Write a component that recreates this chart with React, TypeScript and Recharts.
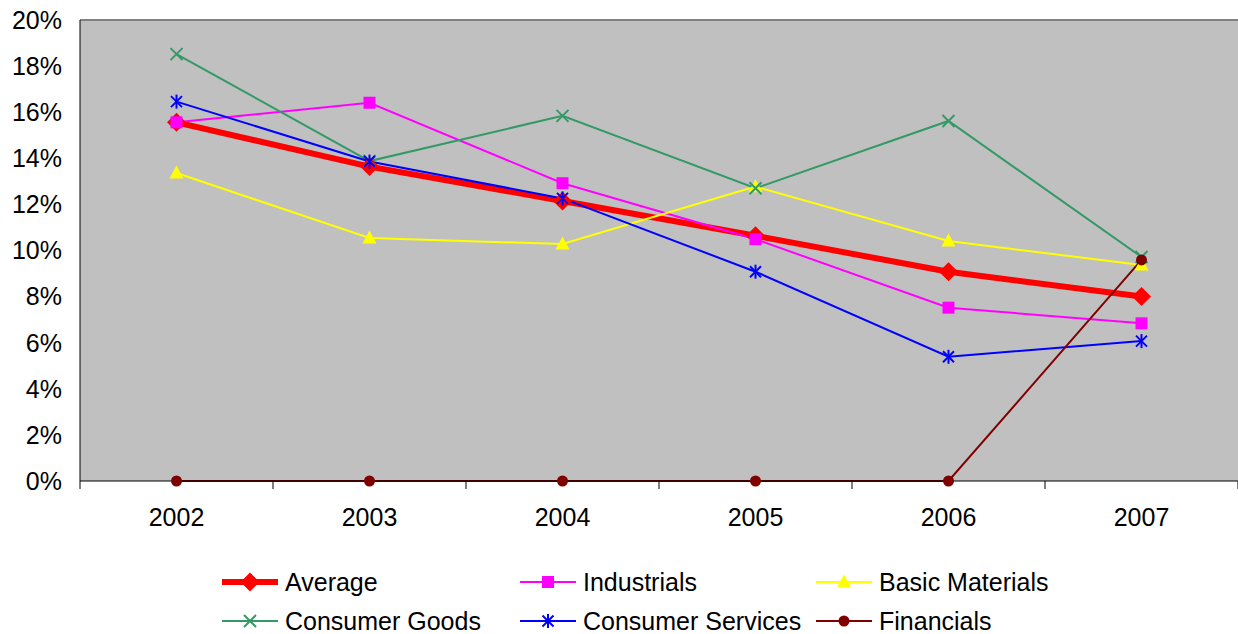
import React from 'react';
import { LineChart, Line, XAxis, YAxis, CartesianGrid, ReferenceLine, Legend } from 'recharts';

// Sector values by year, in percent
const years = ['2002', '2003', '2004', '2005', '2006', '2007'];
const average = [15.56, 13.64, 12.15, 10.64, 9.08, 8.0];
const industrials = [15.56, 16.41, 12.92, 10.49, 7.52, 6.84];
const basicMaterials = [13.36, 10.54, 10.28, 12.77, 10.41, 9.37];
const consumerGoods = [18.52, 13.88, 15.84, 12.7, 15.62, 9.72];
const consumerServices = [16.46, 13.86, 12.26, 9.08, 5.39, 6.07];
const financials = [0, 0, 0, 0, 0, 9.59];
const yTicks = [0, 2, 4, 6, 8, 10, 12, 14, 16, 18, 20];

type MarkerKind = 'diamond' | 'square' | 'triangle' | 'cross' | 'star' | 'circle';

interface SeriesDef {
  key: string;
  name: string;
  color: string;
  width: number;
  marker: MarkerKind;
}

const series: SeriesDef[] = [
  { key: 'average', name: 'Average', color: '#FF0000', width: 6, marker: 'diamond' },
  { key: 'industrials', name: 'Industrials', color: '#FF00FF', width: 2, marker: 'square' },
  { key: 'basicMaterials', name: 'Basic Materials', color: '#FFFF00', width: 2, marker: 'triangle' },
  { key: 'consumerGoods', name: 'Consumer Goods', color: '#339966', width: 2, marker: 'cross' },
  { key: 'consumerServices', name: 'Consumer Services', color: '#0000FF', width: 2, marker: 'star' },
  { key: 'financials', name: 'Financials', color: '#800000', width: 2, marker: 'circle' },
];

const data = years.map((year, i) => ({
  year,
  average: average[i],
  industrials: industrials[i],
  basicMaterials: basicMaterials[i],
  consumerGoods: consumerGoods[i],
  consumerServices: consumerServices[i],
  financials: financials[i],
}));

const WIDTH = 1238;
const HEIGHT = 634;
const Y_AXIS_W = 80;
const FONT = '"Liberation Sans", Arial, sans-serif';
const HALF_BAND = (WIDTH - Y_AXIS_W) / years.length / 2;

function Marker({ kind, cx, cy, color }: { kind: MarkerKind; cx: number; cy: number; color: string }) {
  switch (kind) {
    case 'diamond':
      return <polygon points={`${cx},${cy - 9.5} ${cx + 9.5},${cy} ${cx},${cy + 9.5} ${cx - 9.5},${cy}`} fill={color} />;
    case 'square':
      return <rect x={cx - 6} y={cy - 6} width={12} height={12} fill={color} />;
    case 'triangle':
      return <polygon points={`${cx},${cy - 7.5} ${cx + 7},${cy + 5.5} ${cx - 7},${cy + 5.5}`} fill={color} />;
    case 'cross':
      return (
        <g stroke={color} strokeWidth={2}>
          <line x1={cx - 6} y1={cy - 6} x2={cx + 6} y2={cy + 6} />
          <line x1={cx - 6} y1={cy + 6} x2={cx + 6} y2={cy - 6} />
        </g>
      );
    case 'star':
      return (
        <g stroke={color} strokeWidth={2}>
          <line x1={cx - 5.5} y1={cy - 5.5} x2={cx + 5.5} y2={cy + 5.5} />
          <line x1={cx - 5.5} y1={cy + 5.5} x2={cx + 5.5} y2={cy - 5.5} />
          <line x1={cx} y1={cy - 7} x2={cx} y2={cy + 7} />
        </g>
      );
    default:
      return <circle cx={cx} cy={cy} r={5.5} fill={color} />;
  }
}

// category label at the band centre, tick marks on the band edges
function YearTick(props: any) {
  const { x, y, payload, index } = props;
  const last = index === years.length - 1;
  return (
    <g>
      <line x1={x - HALF_BAND} y1={y} x2={x - HALF_BAND} y2={y + 8} stroke="#000" />
      {last && <line x1={x + HALF_BAND} y1={y} x2={x + HALF_BAND} y2={y + 8} stroke="#000" />}
      <text x={x} y={y + 27} dy="0.71em" textAnchor="middle" fill="#000" fontSize={25} fontFamily={FONT}>
        {payload.value}
      </text>
    </g>
  );
}

const legendCols = [222, 520, 816];

function LegendIcon({ s }: { s: SeriesDef }) {
  return (
    <svg width={56} height={30} style={{ display: 'block' }}>
      <line x1={0} y1={15} x2={56} y2={15} stroke={s.color} strokeWidth={s.width} />
      <Marker kind={s.marker} cx={28} cy={15} color={s.color} />
    </svg>
  );
}

function ChartLegend() {
  return (
    <div style={{ position: 'relative', width: WIDTH, height: 74, fontFamily: FONT, fontSize: 25, color: '#000' }}>
      {series.map((s, i) => (
        <div
          key={s.key}
          style={{
            position: 'absolute',
            left: legendCols[i % 3],
            top: i < 3 ? 7 : 46,
            display: 'flex',
            alignItems: 'center',
            height: 30,
            whiteSpace: 'nowrap',
          }}
        >
          <LegendIcon s={s} />
          <span style={{ marginLeft: 7, lineHeight: '30px' }}>{s.name}</span>
        </div>
      ))}
    </div>
  );
}

export default function App() {
  return (
    <div style={{ width: WIDTH, height: HEIGHT, background: '#fff' }}>
      <style>{'body { margin: 0; }'}</style>
      <LineChart width={WIDTH} height={HEIGHT} data={data} margin={{ top: 20, right: 0, left: 0, bottom: 103 }}>
        <CartesianGrid horizontal={false} vertical={false} fill="#C0C0C0" />
        <ReferenceLine y={20} stroke="#808080" strokeWidth={2} />
        <XAxis
          dataKey="year"
          scale="band"
          height={50}
          axisLine={{ stroke: '#000' }}
          tickLine={false}
          tickSize={0}
          tickMargin={0}
          tick={(p: any) => <YearTick {...p} />}
          interval={0}
        />
        <YAxis
          width={Y_AXIS_W}
          domain={[0, 20]}
          ticks={yTicks}
          interval={0}
          tickFormatter={(v: number) => `${v}%`}
          axisLine={{ stroke: '#000' }}
          tickLine={false}
          tickSize={0}
          tickMargin={18}
          tick={{ fill: '#000', fontSize: 25, fontFamily: FONT }}
        />
        {series.map(s => (
          <Line
            key={s.key}
            dataKey={s.key}
            name={s.name}
            type="linear"
            stroke={s.color}
            strokeWidth={s.width}
            isAnimationActive={false}
            dot={(p: any) => <Marker key={`${s.key}-${p.index}`} kind={s.marker} cx={p.cx} cy={p.cy} color={s.color} />}
            activeDot={false}
          />
        ))}
        <Legend
          layout="horizontal"
          verticalAlign="middle"
          wrapperStyle={{ position: 'absolute', top: 560, left: 0, width: WIDTH }}
          content={() => <ChartLegend />}
        />
      </LineChart>
    </div>
  );
}
